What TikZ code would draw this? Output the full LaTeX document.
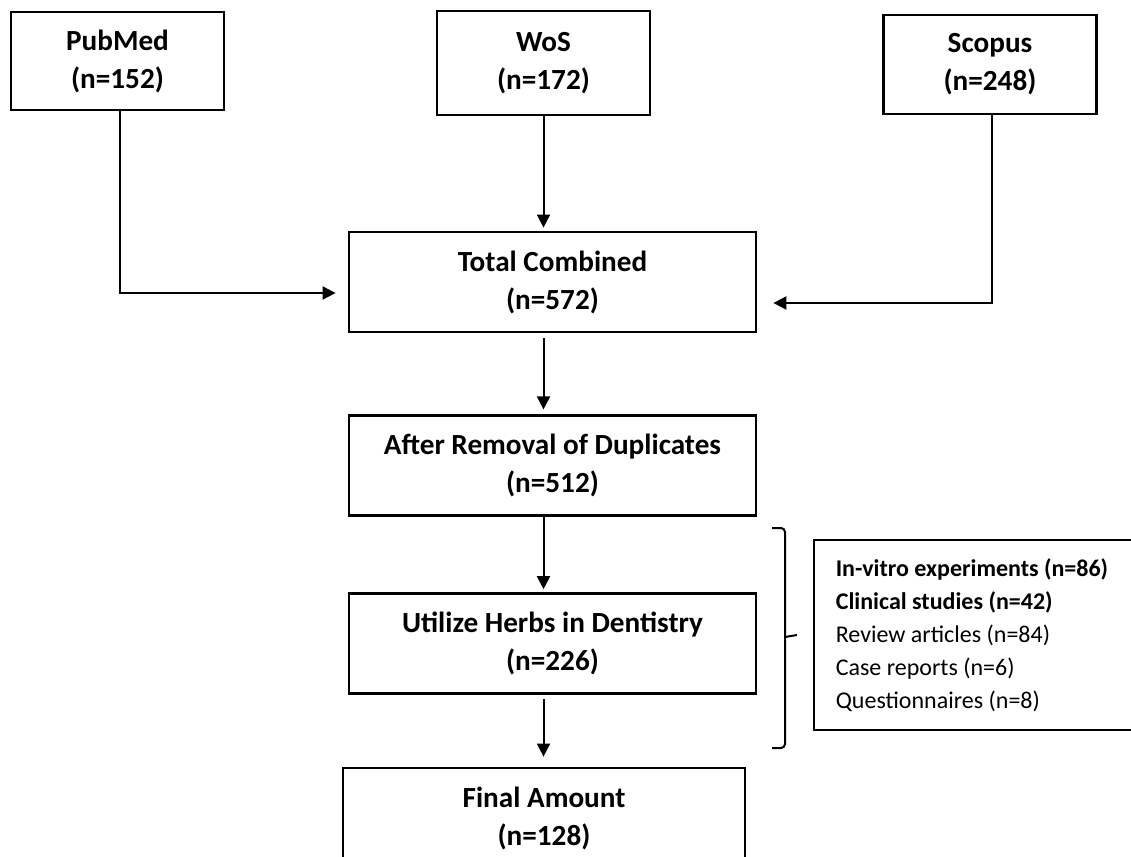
\documentclass[tikz,border=0pt]{standalone}
\usepackage{fontspec}
\setmainfont{Carlito}
\usetikzlibrary{arrows.meta, positioning}

\begin{document}
\begin{tikzpicture}[
    x=0.5pt, y=-0.5pt,
    stage/.style={
        rectangle,
        draw=black,
        line width=1.4pt,
        minimum width=203.5pt,
        minimum height=50pt,
        align=center,
        font=\fontsize{14.6}{19}\selectfont\bfseries
    },
    source/.style={
        stage,
        minimum width=106.5pt
    },
    breakdown/.style={
        rectangle,
        draw=black,
        line width=0.8pt,
        text width=141.5pt,
        inner xsep=11pt,
        minimum height=95pt,
        align=flush left,
        font=\fontsize{12}{16.5}\selectfont
    },
    link/.style={
        -{Triangle[length=6.5pt, width=6.5pt]},
        line width=1pt,
        draw=black
    }
]
    \useasboundingbox (0,0) rectangle (1131,857);
    \clip (0,0) rectangle (1131,857);

    % DATABASES
    \node[source, minimum height=49pt] (pubmed) at (117.5,61) {PubMed \\ (n=152)};
    \node[source, minimum height=52pt] (wos) at (543.5,63) {WoS \\ (n=172)};
    \node[source, minimum height=49.5pt] (scopus) at (990,64.5) {Scopus \\ (n=248)};

    % SCREENING COLUMN
    \node[stage] (total) at (552.5,282) {Total Combined \\ (n=572)};
    \node[stage] (dedup) [below=40.5pt of total] {After Removal of Duplicates \\ (n=512)};
    \node[stage] (herbs) [below=37.5pt of dedup] {Utilize Herbs in Dentistry \\ (n=226)};
    \node[stage, minimum width=201pt] (final) at (544,818) {Final Amount \\ (n=128)};

    % STUDY TYPES
    \node[breakdown, anchor=west] (types) at (813,635) {%
        \textbf{In-vitro experiments (n=86)} \\
        \textbf{Clinical studies (n=42)} \\
        Review articles (n=84) \\
        Case reports (n=6) \\
        Questionnaires (n=8)};

    % LINKS INTO TOTAL
    \draw[link, shorten >=6pt] (pubmed.south -| 120,0) |- ([yshift=-5.5pt]total.west);
    \draw[link, shorten >=1.5pt] (wos.south) -- (wos.south |- total.north);
    \draw[link, shorten >=8pt] (scopus.south -| 992,0) |- ([yshift=-10.5pt]total.east);

    % LINKS DOWN THE COLUMN
    \draw[link, shorten <=2.5pt, shorten >=2.5pt] (total.south -| wos) -- (dedup.north -| wos);
    \draw[link, shorten >=1.5pt] (dedup.south -| wos) -- (herbs.north -| wos);
    \draw[link, shorten <=2pt, shorten >=5pt] (herbs.south -| wos) -- (final.north -| wos);

    % bracket for the herbs stage
    \draw[line width=1pt, rounded corners=2pt] (772,528) -- (785,528) -- (785,748) -- (772,748);
    \draw[line width=1pt] (785,637) -- (types.west -| 797,0);

\end{tikzpicture}
\end{document}
